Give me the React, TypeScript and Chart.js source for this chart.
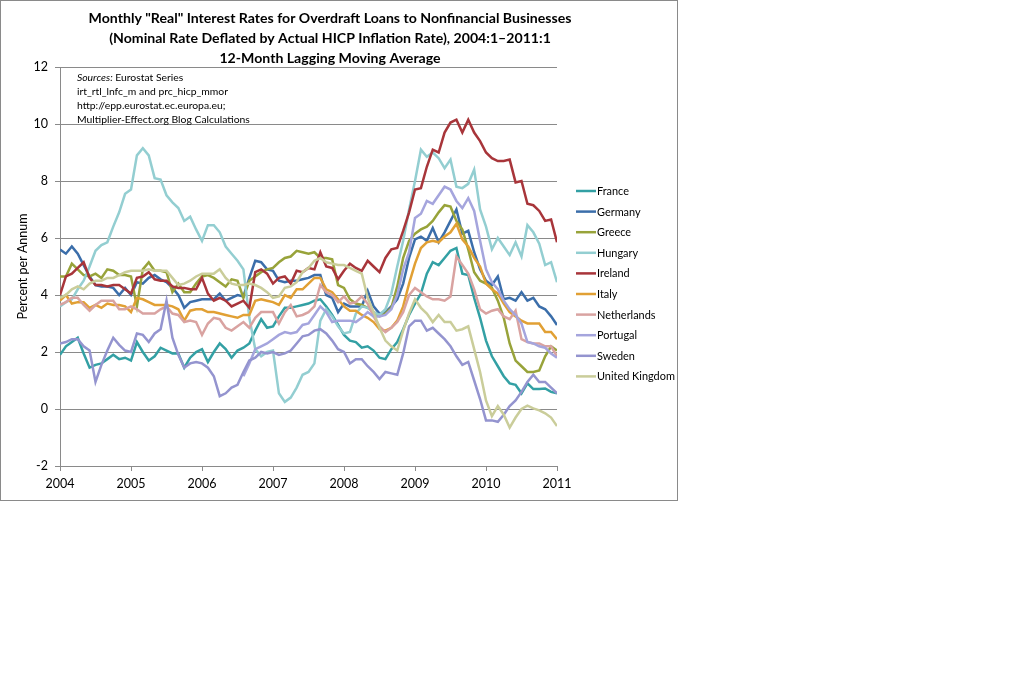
import React, { useEffect, useRef } from 'react';
import { Chart, registerables } from 'chart.js';

Chart.register(...registerables);

const yearTicks = ['2004', '2005', '2006', '2007', '2008', '2009', '2010', '2011'];

const seriesNames = ['France', 'Germany', 'Greece', 'Hungary', 'Ireland', 'Italy', 'Netherlands', 'Portugal', 'Sweden', 'United Kingdom'];
const seriesColors = ['#33a0a4', '#3b6eaa', '#98a33a', '#93ced1', '#a8353a', '#e1a034', '#d9a3a1', '#a5a5dd', '#9494cf', '#cacd9a'];

// Monthly values, 2004:1 .. 2011:1 (85 months)
const france = [
  1.9, 2.2, 2.35, 2.5, 1.95, 1.45, 1.55, 1.6, 1.75, 1.9, 1.75, 1.8,
  1.7, 2.35, 2.0, 1.7, 1.85, 2.15, 2.05, 1.95, 1.95, 1.45, 1.8, 2.0,
  2.1, 1.65, 2.0, 2.3, 2.1, 1.8, 2.05, 2.15, 2.3, 2.75, 3.15, 2.85,
  2.9, 3.25, 3.55, 3.55, 3.6, 3.65, 3.7, 3.8, 3.85, 3.6, 3.3, 2.95,
  2.6, 2.4, 2.35, 2.15, 2.2, 2.05, 1.8, 1.75, 2.1, 2.35, 2.8, 3.3,
  3.7, 4.05, 4.75, 5.15, 5.05, 5.3, 5.55, 5.65, 4.75, 4.7, 3.9, 3.2,
  2.4, 1.85, 1.5, 1.15, 0.9, 0.85, 0.55, 0.9, 0.7, 0.7, 0.72, 0.6,
  0.55,
];
const germany = [
  5.6, 5.45, 5.7, 5.45, 5.05, 4.65, 4.35, 4.3, 4.3, 4.25, 4.0, 4.25,
  4.0, 4.45, 4.4, 4.6, 4.7, 4.55, 4.45, 4.25, 4.0, 3.55, 3.75, 3.8,
  3.85, 3.85, 3.85, 4.05, 3.8, 3.9, 4.0, 3.95, 4.6, 5.2, 5.15, 4.9,
  4.85, 4.5, 4.45, 4.5, 4.5, 4.55, 4.6, 4.7, 4.7, 4.0, 3.9, 3.4,
  3.7, 3.6, 3.6, 3.6, 4.15, 3.6, 3.35, 3.4, 3.6, 3.85, 4.4, 5.3,
  5.95, 6.05, 5.9, 6.35, 5.85, 6.2, 6.6, 7.0, 6.15, 6.25, 5.5, 4.9,
  4.5, 4.35, 4.65, 3.85, 3.9, 3.8, 4.1, 3.8, 3.9, 3.6, 3.5, 3.25,
  2.95,
];
const greece = [
  4.65, 4.65, 5.1, 4.9, 4.7, 4.65, 4.75, 4.6, 4.9, 4.85, 4.7, 4.7,
  4.65, 3.6, 4.9, 5.15, 4.85, 4.85, 4.8, 4.1, 4.4, 4.1, 4.1, 4.4,
  4.65, 4.7, 4.6, 4.45, 4.3, 4.55, 4.5, 3.9, 4.5, 4.65, 4.8, 4.9,
  4.95, 5.15, 5.3, 5.35, 5.55, 5.5, 5.45, 5.5, 5.3, 5.3, 5.25, 4.35,
  4.25, 3.85, 3.7, 3.65, 3.55, 3.4, 3.25, 3.35, 3.55, 4.3, 5.3, 5.9,
  6.15, 6.3, 6.4, 6.6, 6.9, 7.15, 7.1, 6.6, 6.3, 5.6, 4.8, 4.5,
  4.4, 4.25, 3.8, 3.2, 2.3, 1.7, 1.5, 1.3, 1.3, 1.35, 1.85, 2.2,
  2.05,
];
const hungary = [
  3.6, 3.75, 3.85, 4.2, 4.5, 5.0, 5.55, 5.75, 5.85, 6.4, 6.9, 7.55,
  7.7, 8.9, 9.15, 8.9, 8.1, 8.05, 7.5, 7.25, 7.05, 6.6, 6.75, 6.3,
  5.9, 6.45, 6.45, 6.2, 5.7, 5.45, 5.2, 4.9, 3.2, 2.1, 1.85, 2.0,
  2.05, 0.55, 0.25, 0.4, 0.75, 1.2, 1.3, 1.6, 3.1, 3.5, 3.25, 2.9,
  2.65, 2.7, 3.35, 3.6, 3.55, 3.4, 3.3, 3.5, 4.05, 5.0, 5.9, 7.0,
  8.0, 9.1, 8.85, 9.0, 8.8, 8.45, 8.75, 7.8, 7.75, 7.9, 8.4, 7.0,
  6.4, 5.6, 6.0, 5.7, 5.4, 5.85, 5.35, 6.45, 6.2, 5.8, 5.05, 5.15,
  4.45,
];
const ireland = [
  4.0, 4.65, 4.75, 4.95, 5.15, 4.6, 4.35, 4.35, 4.3, 4.35, 4.35, 4.2,
  4.05, 4.6, 4.65, 4.8, 4.55, 4.5, 4.5, 4.3, 4.25, 4.25, 4.2, 4.2,
  4.6, 4.05, 3.8, 3.9, 3.8, 3.6, 3.7, 3.8, 3.55, 4.8, 4.9, 4.75,
  4.4, 4.6, 4.65, 4.4, 4.85, 4.8, 4.95, 4.9, 5.5, 5.0, 4.95, 4.55,
  4.85, 5.1, 4.95, 4.85, 5.2, 5.0, 4.8, 5.3, 5.6, 5.65, 6.25, 6.9,
  7.7, 7.75, 8.5, 9.1, 9.0, 9.7, 10.05, 10.15, 9.7, 10.15, 9.7, 9.4,
  9.0, 8.8, 8.7, 8.7, 8.75, 7.95, 8.0, 7.2, 7.15, 6.95, 6.6, 6.65,
  5.85,
];
const italy = [
  3.8, 4.0, 3.7, 3.75, 3.75, 3.55, 3.65, 3.55, 3.7, 3.65, 3.65, 3.6,
  3.4, 3.9, 3.85, 3.75, 3.65, 3.65, 3.65, 3.6, 3.5, 3.1, 3.45, 3.5,
  3.5, 3.4, 3.4, 3.35, 3.3, 3.25, 3.2, 3.3, 3.3, 3.8, 3.85, 3.8,
  3.75, 3.65, 4.0, 3.9, 4.2, 4.2, 4.4, 4.6, 4.6, 4.2, 4.1, 3.85,
  3.6, 3.45, 3.45, 3.3, 3.2, 3.05, 2.8, 2.75, 2.85, 3.1, 3.6, 4.4,
  5.1, 5.65, 5.85, 5.9, 5.85, 6.05, 6.2, 6.5, 5.95, 5.7, 5.3, 5.0,
  4.4, 4.2, 4.05, 3.7, 3.4, 3.25, 3.1, 3.0, 3.0, 3.0, 2.7, 2.7,
  2.45,
];
const netherlands = [
  3.65, 3.75, 3.9, 3.9, 3.65, 3.45, 3.65, 3.8, 3.8, 3.8, 3.5, 3.5,
  3.6, 3.5, 3.35, 3.35, 3.35, 3.5, 3.6, 3.35, 3.3, 3.05, 3.1, 3.05,
  2.6, 3.0, 3.2, 3.15, 2.85, 2.75, 2.9, 3.05, 2.85, 3.2, 3.4, 3.4,
  3.4, 3.0, 3.4, 3.65, 3.25, 3.3, 3.4, 3.6, 4.35, 4.1, 4.0, 3.75,
  3.95, 3.7, 3.75, 3.95, 3.7, 3.25, 2.9, 2.7, 2.85, 3.05, 3.4, 4.0,
  4.25, 4.1, 3.95, 3.85, 3.85, 3.8, 3.95, 5.35, 5.05, 4.75, 4.2, 3.5,
  3.35, 3.45, 3.5, 3.25, 3.15, 3.45, 2.45, 2.35, 2.3, 2.3, 2.2, 2.2,
  1.85,
];
const portugal = [
  null, null, null, null, null, null, null, null, null, null, null, null,
  null, null, null, null, null, null, null, null, null, null, null, null,
  null, null, null, null, null, null, null, 1.15, 1.6, 2.1, 2.2, 2.3,
  2.45, 2.6, 2.7, 2.65, 2.7, 2.95, 3.0, 3.3, 3.6, 3.4, 3.05, 3.1,
  3.1, 3.1, 3.05, 3.2, 3.4, 3.25, 3.25, 3.3, 3.5, 4.0, 4.9, 5.5,
  6.7, 6.85, 7.3, 7.2, 7.5, 7.8, 7.7, 7.3, 7.05, 7.4, 6.95, 5.9,
  4.9, 4.45, 4.2, 3.8, 3.5, 3.3, 3.0, 2.35, 2.3, 2.2, 2.15, 1.95,
  1.8,
];
const sweden = [
  2.3, 2.35, 2.45, 2.45, 2.2, 2.05, 0.95, 1.55, 2.05, 2.5, 2.25, 2.05,
  2.0, 2.65, 2.6, 2.35, 2.65, 2.8, 3.8, 2.5, 1.9, 1.45, 1.6, 1.65,
  1.6, 1.45, 1.15, 0.45, 0.55, 0.75, 0.85, 1.3, 1.7, 1.8, 2.0, 1.95,
  2.0, 1.9, 1.95, 2.05, 2.3, 2.55, 2.6, 2.75, 2.8, 2.65, 2.4, 2.1,
  2.0, 1.6, 1.75, 1.75, 1.5, 1.3, 1.05, 1.3, 1.25, 1.2, 1.95, 2.9,
  3.1, 3.1, 2.75, 2.85, 2.65, 2.45, 2.2, 1.85, 1.55, 1.65, 1.0, 0.35,
  -0.4, -0.4, -0.45, -0.2, 0.1, 0.3, 0.6, 0.95, 1.2, 0.95, 0.95, 0.75,
  0.55,
];
const unitedKingdom = [
  3.9, 4.0, 4.2, 4.3, 4.2, 4.4, 4.5, 4.5, 4.6, 4.6, 4.7, 4.8,
  4.85, 4.85, 4.85, 4.9, 4.85, 4.85, 4.85, 4.6, 4.35, 4.4, 4.5, 4.65,
  4.75, 4.75, 4.75, 4.9, 4.6, 4.4, 4.35, 4.35, 4.4, 4.35, 4.25, 4.1,
  3.9, 3.95, 4.25, 4.3, 4.45, 4.8, 4.95, 5.2, 5.3, 5.15, 5.1, 5.05,
  5.05, 4.95, 4.85, 4.75, 3.9, 3.4, 2.85, 2.4, 2.2, 2.05, 2.75, 3.35,
  3.85, 3.55, 3.35, 3.05, 3.3, 3.05, 3.05, 2.75, 2.8, 2.9, 2.1, 1.3,
  0.3, -0.25, 0.1, -0.2, -0.65, -0.3, 0.0, 0.12, 0.02, -0.05, -0.15, -0.3,
  -0.6,
];

const seriesValues = [france, germany, greece, hungary, ireland, italy, netherlands, portugal, sweden, unitedKingdom];

const titleLines = [
  'Monthly "Real" Interest Rates for Overdraft Loans to Nonfinancial Businesses',
  '(Nominal Rate Deflated by Actual HICP Inflation Rate), 2004:1\u20132011:1',
  '12-Month Lagging Moving Average',
];
const sourceLines = [
  'irt_rtl_lnfc_m and prc_hicp_mmor',
  'http://epp.eurostat.ec.europa.eu;',
  'Multiplier-Effect.org Blog Calculations',
];

const FAMILY = 'Lato, "DejaVu Sans", sans-serif';
const GRID = '#8a8a8a';

function fitSize(ctx: CanvasRenderingContext2D, text: string, target: number, prefix: string) {
  ctx.font = `${prefix} 100px ${FAMILY}`;
  const w = ctx.measureText(text).width;
  return (100 * target) / w;
}

const decorPlugin = {
  id: 'decor',
  afterDraw(chart: any) {
    const ctx: CanvasRenderingContext2D = chart.ctx;
    ctx.save();
    // outer border
    ctx.strokeStyle = GRID;
    ctx.lineWidth = 1;
    ctx.strokeRect(0.5, 0.5, chart.width - 1, chart.height - 1);

    // title
    const tSize = fitSize(ctx, titleLines[0], 483, 'bold');
    ctx.font = `bold ${tSize}px ${FAMILY}`;
    ctx.fillStyle = '#000';
    ctx.textAlign = 'center';
    ctx.textBaseline = 'middle';
    const tY = [18, 38.5, 58];
    titleLines.forEach((l, i) => ctx.fillText(l, 330, tY[i]));

    // sources note
    const sSize = fitSize(ctx, sourceLines[2], 173, 'normal');
    ctx.textAlign = 'left';
    ctx.font = `italic ${sSize}px ${FAMILY}`;
    ctx.fillText('Sources:', 77, 78);
    const sw = ctx.measureText('Sources: ').width;
    ctx.font = `normal ${sSize}px ${FAMILY}`;
    ctx.fillText('Eurostat Series', 77 + sw, 78);
    sourceLines.forEach((l, i) => ctx.fillText(l, 77, 92 + i * 13.7));

    // legend
    const lSize = fitSize(ctx, 'United Kingdom', 78, 'normal');
    ctx.font = `normal ${lSize}px ${FAMILY}`;
    chart.data.datasets.forEach((ds: any, i: number) => {
      const y = 191 + i * 20.6;
      ctx.strokeStyle = ds.borderColor;
      ctx.lineWidth = 2.5;
      ctx.beginPath();
      ctx.moveTo(576, y);
      ctx.lineTo(596, y);
      ctx.stroke();
      ctx.fillStyle = '#000';
      ctx.fillText(ds.label, 597, y + 0.5);
    });
    ctx.restore();
  },
};

export default function App() {
  const ref = useRef<HTMLCanvasElement>(null);
  useEffect(() => {
    if (!ref.current) return;
    const tickFont = { family: FAMILY, size: 12.5 };
    const chart = new Chart(ref.current, {
      type: 'line',
      data: {
        datasets: seriesNames.map((name, si) => ({
          label: name,
          data: seriesValues[si].map((v, i) => ({ x: i, y: v })),
          borderColor: seriesColors[si],
          backgroundColor: seriesColors[si],
          borderWidth: 2.5,
          pointRadius: 0,
          tension: 0,
          spanGaps: false,
          order: seriesNames.length - si,
        })),
      },
      options: {
        responsive: false,
        animation: false,
        events: [],
        layout: { padding: { left: 0, right: 121, top: 67, bottom: 0 } },
        plugins: { legend: { display: false }, tooltip: { enabled: false }, title: { display: false } },
        scales: {
          x: {
            type: 'linear',
            min: 0,
            max: 84,
            grid: { drawOnChartArea: false, drawTicks: true, tickLength: 5, color: GRID },
            border: { color: GRID },
            ticks: {
              stepSize: 12,
              autoSkip: false,
              maxRotation: 0,
              padding: 5,
              color: '#000',
              font: tickFont,
              callback: (v: any) => yearTicks[Math.round(Number(v) / 12)],
            },
            afterFit: (s: any) => { s.height = 35; },
          },
          y: {
            min: -2,
            max: 12,
            grid: { color: GRID, tickLength: 5 },
            border: { color: GRID },
            ticks: { stepSize: 2, padding: 7, color: '#000', font: tickFont },
            title: {
              display: true,
              text: 'Percent per Annum',
              color: '#000',
              font: { family: FAMILY, size: 12.5 },
              padding: { top: 15, bottom: 0 },
            },
            afterFit: (s: any) => { s.width = 60; },
          },
        },
      },
      plugins: [decorPlugin],
    } as any);
    return () => chart.destroy();
  }, []);
  return (
    <div style={{ position: 'absolute', left: 0, top: 0, width: 1024, height: 690, background: '#fff' }}>
      <canvas ref={ref} width={678} height={501} style={{ display: 'block' }} />
    </div>
  );
}
